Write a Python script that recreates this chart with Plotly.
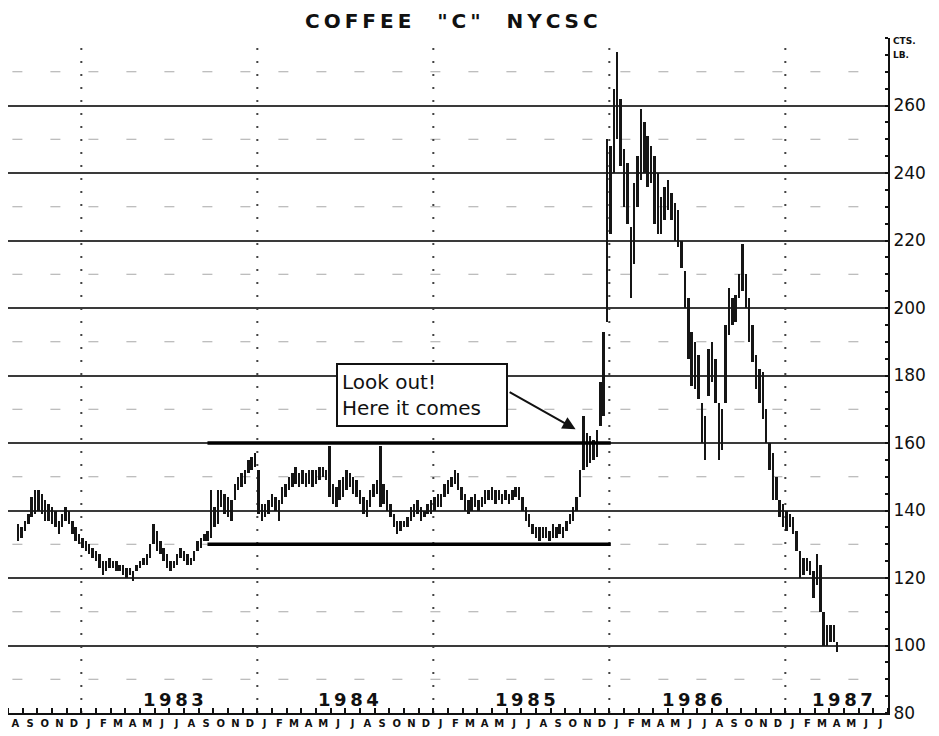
import plotly.graph_objects as go

# ---------------- data (weekly high / low, cents per lb) ----------------
first_week = 3          # first bar = 3rd week after 1 Aug 1982
weeks_per_year = 52

high = [
    136, 135, 137, 139, 144, 146, 146, 145, 143, 142,
    141, 140, 137, 139, 141, 140, 137, 135, 133, 132,
    131, 130, 129, 128, 127, 125, 125, 126, 125, 125,
    124, 124, 123, 123, 122, 124, 125, 126, 127, 130,
    136, 134, 131, 129, 127, 125, 125, 127, 129, 128,
    127, 126, 128, 131, 132, 133, 134, 146, 141, 146,
    146, 145, 144, 143, 148, 150, 151, 152, 155, 156,
    157, 152, 142, 142, 143, 145, 144, 143, 147, 148,
    150, 151, 153, 151, 152, 151, 152, 152, 152, 153,
    153, 152, 159, 148, 147, 149, 150, 152, 151, 150,
    149, 146, 144, 143, 146, 148, 149, 159, 148, 146,
    142, 139, 137, 137, 137, 138, 141, 142, 143, 141,
    140, 142, 143, 144, 145, 145, 148, 149, 150, 152,
    151, 147, 145, 143, 144, 145, 143, 144, 146, 146,
    147, 146, 146, 145, 146, 145, 146, 147, 147, 144,
    141, 139, 136, 135, 135, 135, 135, 134, 136, 135,
    136, 135, 137, 139, 141, 144, 152, 168, 163, 162,
    161, 164, 178, 193, 250, 248, 265, 276, 262, 247,
    243, 224, 237, 245, 259, 255, 251, 248, 245, 240,
    233, 236, 238, 234, 231, 229, 220, 211, 203, 193,
    190, 186, 172, 168, 188, 190, 185, 172, 170, 195,
    206, 203, 204, 210, 219, 210, 203, 195, 186, 182,
    181, 170, 160, 157, 150, 143, 142, 140, 139, 138,
    134, 128, 126, 126, 125, 122, 127, 124, 110, 106,
    106, 106, 101,
]
low = [
    131, 132, 134, 136, 138, 139, 140, 139, 137, 137,
    136, 135, 133, 135, 137, 136, 133, 131, 130, 129,
    128, 127, 126, 125, 123, 121, 122, 123, 123, 122,
    122, 121, 120, 121, 119, 122, 123, 124, 124, 126,
    130, 128, 127, 125, 123, 122, 123, 124, 126, 125,
    124, 124, 125, 128, 129, 131, 131, 132, 135, 136,
    141, 139, 138, 137, 143, 146, 147, 148, 151, 152,
    153, 139, 137, 138, 139, 141, 140, 137, 142, 144,
    146, 147, 148, 147, 148, 147, 148, 147, 148, 149,
    150, 149, 144, 142, 141, 143, 144, 146, 147, 145,
    144, 142, 139, 138, 141, 144, 145, 141, 142, 140,
    138, 135, 133, 134, 135, 135, 137, 138, 139, 137,
    138, 139, 139, 140, 141, 141, 144, 145, 147, 148,
    146, 143, 140, 139, 140, 141, 140, 141, 142, 143,
    143, 142, 143, 142, 143, 142, 143, 144, 143, 140,
    137, 135, 133, 132, 131, 132, 132, 131, 132, 132,
    133, 132, 134, 136, 137, 140, 144, 152, 153, 154,
    155, 156, 165, 168, 196, 222, 240, 250, 242, 230,
    225, 203, 213, 230, 238, 240, 236, 237, 225, 222,
    222, 226, 229, 226, 220, 218, 212, 200, 185, 177,
    176, 173, 160, 155, 174, 178, 172, 155, 158, 172,
    192, 195, 196, 203, 205, 200, 190, 184, 176, 172,
    167, 160, 152, 143, 143, 138, 135, 134, 135, 133,
    128, 120, 121, 122, 121, 114, 118, 110, 100, 100,
    101, 101, 98,
]

month_labels = list("ASOND") + list("JFMAMJJASOND") * 4 + list("JFMAMJJ")
year_labels = ["1983", "1984", "1985", "1986", "1987"]
year_label_months = [11.3, 23.2, 35.3, 46.7, 56.9]
year_start_months = [5, 17, 29, 41, 53]
price_ticks = list(range(80, 281, 20))
price_tick_text = [str(v) for v in price_ticks[:-1]] + [""]
half_levels = list(range(90, 280, 20))
resistance = 160
support = 130
range_start_month, range_end_month = 13.6, 41.1
title_words = ["COFFEE", '"C"', "NYCSC"]
callout_text = "Look out!<br>Here it comes"
callout_center = (28.2, 174.1)
arrow_tail = (34.1, 175.3)
arrow_head = (38.7, 164.1)

THIN = "\u2009"


def spaced(s):
    return THIN.join(s)


# ---------------- figure ----------------
x_months = [(first_week + i) * 12 / weeks_per_year for i in range(len(high))]
spans = [h - l for h, l in zip(high, low)]

fig = go.Figure()
fig.add_trace(go.Bar(
    x=x_months, y=spans, base=low, width=0.17,
    marker=dict(color="#151515", line=dict(width=0)),
    hoverinfo="skip",
))

shapes = []
for v in half_levels:
    shapes.append(dict(type="line", xref="x", yref="y", x0=0.3, x1=60, y0=v, y1=v,
                       line=dict(color="#a8a8a8", width=1, dash="10px,28px"), layer="below"))
for m in year_start_months:
    shapes.append(dict(type="line", xref="x", yref="y", x0=m, x1=m, y0=80, y1=280,
                       line=dict(color="#444444", width=2, dash="2px,11px"), layer="below"))
for v in (resistance, support):
    shapes.append(dict(type="line", xref="x", yref="y",
                       x0=range_start_month, x1=range_end_month, y0=v, y1=v,
                       line=dict(color="#000000", width=3.5)))

title_html = ("  " + THIN * 3).join(spaced(w) for w in title_words)

annotations = []
annotations.append(dict(xref="paper", yref="paper", x=(451 - 8) / 880, y=1, yanchor="bottom", yshift=3,
                        text=title_html, showarrow=False,
                        font=dict(family="DejaVu Sans", size=20, color="#111", weight="bold")))
annotations.append(dict(xref="paper", yref="y", x=1.003, y=279, xanchor="left", yanchor="middle",
                        text="CTS.", showarrow=False,
                        font=dict(family="DejaVu Sans", size=9, color="#111", weight="bold")))
annotations.append(dict(xref="paper", yref="y", x=1.003, y=275, xanchor="left", yanchor="middle",
                        text="LB.", showarrow=False,
                        font=dict(family="DejaVu Sans", size=9, color="#111", weight="bold")))
for lab, m in zip(year_labels, year_label_months):
    annotations.append(dict(xref="x", yref="y", x=m, y=84, text=spaced(lab), showarrow=False,
                            yanchor="middle",
                            font=dict(family="DejaVu Sans", size=18, color="#111", weight="bold")))
annotations.append(dict(xref="x", yref="y", x=callout_center[0], y=callout_center[1],
                        text=callout_text, showarrow=False, align="left",
                        width=160, height=52,
                        bgcolor="white", bordercolor="#111", borderwidth=2, borderpad=4,
                        font=dict(family="DejaVu Sans", size=20, color="#111")))
annotations.append(dict(xref="x", yref="y", axref="x", ayref="y",
                        x=arrow_head[0], y=arrow_head[1], ax=arrow_tail[0], ay=arrow_tail[1],
                        text="", showarrow=True, arrowhead=2, arrowsize=1.3, arrowwidth=2,
                        arrowcolor="#111"))

fig.update_layout(
    width=931, height=728,
    margin=dict(l=0, r=51, t=30, b=23),
    plot_bgcolor="white", paper_bgcolor="white",
    showlegend=False, bargap=0,
    shapes=shapes, annotations=annotations,
    xaxis=dict(
        range=[0, 60],
        tickmode="array",
        tickvals=[i + 0.5 for i in range(60)],
        ticktext=month_labels,
        ticks="", showgrid=False, zeroline=False,
        showline=True, linecolor="#111", linewidth=2,
        tickfont=dict(family="DejaVu Sans", size=10, color="#111", weight="bold"),
        minor=dict(tickmode="linear", tick0=0, dtick=1, ticks="inside",
                   ticklen=5, tickwidth=1.5, tickcolor="#111", showgrid=False),
    ),
    yaxis=dict(
        range=[80, 280], side="right",
        tickmode="array", tickvals=price_ticks, ticktext=price_tick_text,
        ticks="", showgrid=True, gridcolor="#3a3a3a", gridwidth=1.7,
        zeroline=False, showline=True, linecolor="#111", linewidth=2,
        tickfont=dict(family="DejaVu Sans", size=17, color="#111"),
        minor=dict(tickmode="linear", tick0=80, dtick=5, ticks="inside",
                   ticklen=3, tickwidth=2, tickcolor="#111", showgrid=False),
    ),
)

fig.write_html("out.html")
